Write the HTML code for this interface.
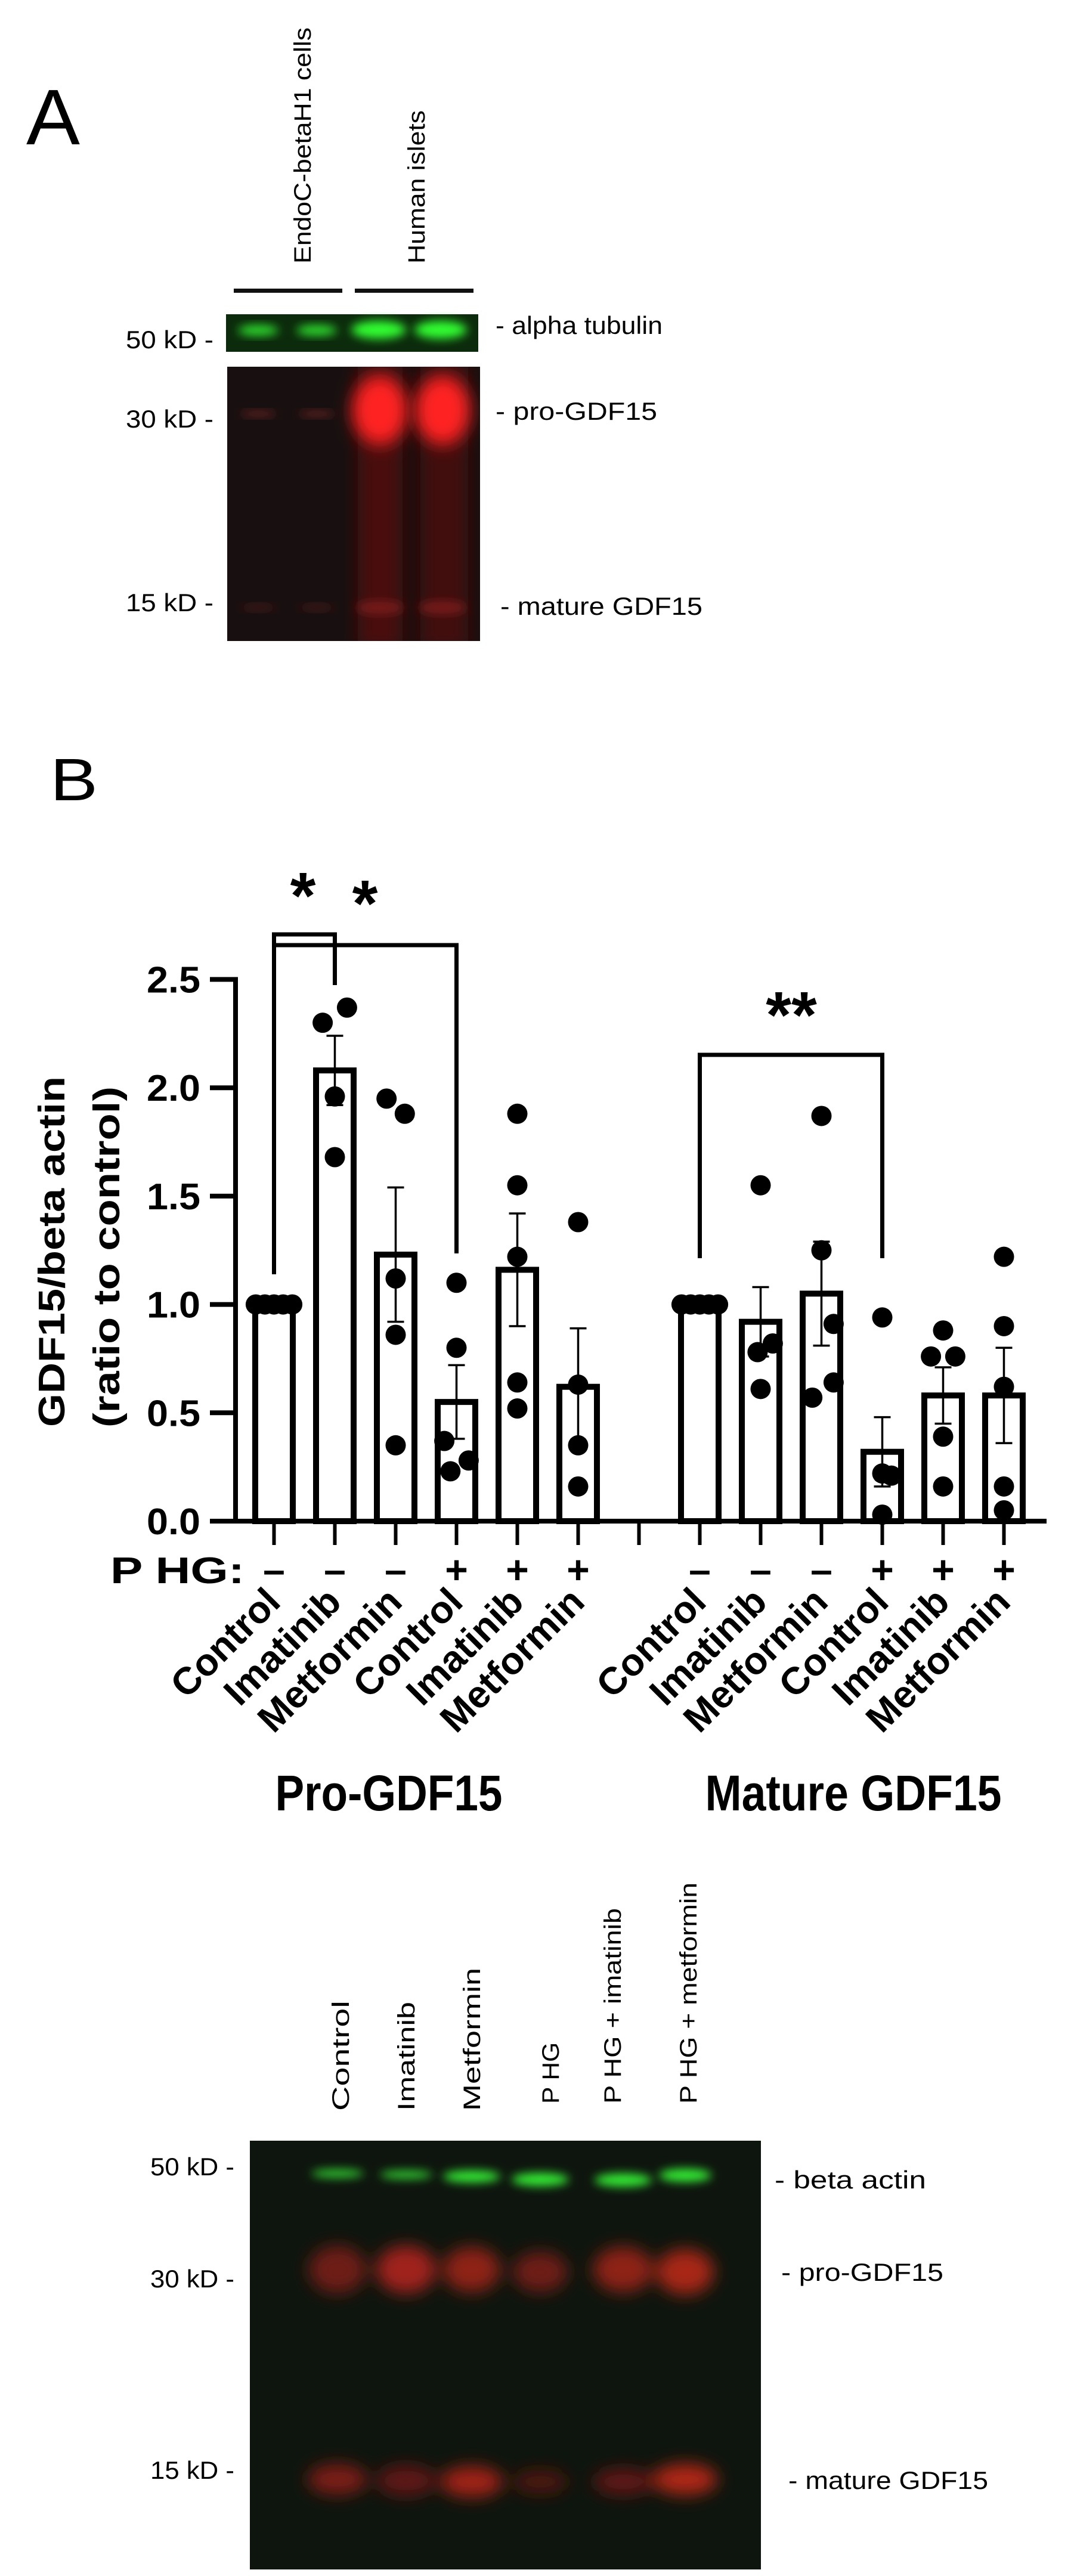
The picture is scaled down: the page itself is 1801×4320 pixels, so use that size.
<!DOCTYPE html>
<html><head><meta charset="utf-8"><style>
html,body{margin:0;padding:0;background:#fff}
svg{display:block}
text{font-family:"Liberation Sans",sans-serif}
</style></head><body>
<svg id="fig" width="1801" height="4320" viewBox="0 0 1801 4320" xmlns="http://www.w3.org/2000/svg">
<defs>
<filter id="b8" x="-50%" y="-50%" width="200%" height="200%"><feGaussianBlur stdDeviation="8"/></filter>
<filter id="b14" x="-50%" y="-50%" width="200%" height="200%"><feGaussianBlur stdDeviation="14"/></filter>
<clipPath id="clipA"><rect x="381" y="615" width="424" height="460"/></clipPath>
<clipPath id="clipB"><rect x="419" y="3590" width="857" height="719"/></clipPath>
</defs>

<!-- PANEL A -->
<g>
<text x="44" y="242" font-size="132" textLength="90" lengthAdjust="spacingAndGlyphs">A</text>
<text transform="translate(521,442) rotate(-90)" font-size="40" textLength="396" lengthAdjust="spacingAndGlyphs">EndoC-betaH1 cells</text>
<text transform="translate(712,442) rotate(-90)" font-size="40" textLength="257" lengthAdjust="spacingAndGlyphs">Human islets</text>
<rect x="392" y="484" width="182" height="7" fill="#111"/>
<rect x="595" y="484" width="199" height="7" fill="#111"/>
<g>
<rect x="379" y="527" width="423" height="63" fill="#0c2a0c"/>
<ellipse cx="433" cy="554" rx="34" ry="9" fill="#2fe02f" filter="url(#b8)"/>
<ellipse cx="531" cy="554" rx="34" ry="9" fill="#2fe02f" filter="url(#b8)"/>
<ellipse cx="635" cy="553" rx="46" ry="15" fill="#33ff33" filter="url(#b8)"/>
<ellipse cx="739" cy="553" rx="44" ry="15" fill="#33ff33" filter="url(#b8)"/>
</g>
<g clip-path="url(#clipA)">
<rect x="381" y="615" width="424" height="460" fill="#181010"/>
<rect x="600" y="610" width="75" height="480" fill="#4a1010" filter="url(#b14)"/>
<rect x="705" y="610" width="80" height="480" fill="#421010" filter="url(#b14)"/>
<ellipse cx="637" cy="688" rx="46" ry="58" fill="#ff2222" filter="url(#b14)"/>
<ellipse cx="742" cy="688" rx="46" ry="58" fill="#ff2222" filter="url(#b14)"/>
<ellipse cx="433" cy="694" rx="30" ry="5" fill="#6a2020" filter="url(#b8)"/>
<ellipse cx="531" cy="694" rx="30" ry="5" fill="#6a2020" filter="url(#b8)"/>
<ellipse cx="433" cy="1019" rx="30" ry="5" fill="#4a1818" filter="url(#b8)"/>
<ellipse cx="531" cy="1019" rx="30" ry="5" fill="#4a1818" filter="url(#b8)"/>
<ellipse cx="637" cy="1019" rx="40" ry="10" fill="#7a1c1c" filter="url(#b8)"/>
<ellipse cx="742" cy="1019" rx="40" ry="10" fill="#7a1c1c" filter="url(#b8)"/>
</g>
<text x="211" y="584" font-size="42" textLength="147" lengthAdjust="spacingAndGlyphs">50 kD -</text>
<text x="211" y="717" font-size="42" textLength="147" lengthAdjust="spacingAndGlyphs">30 kD -</text>
<text x="211" y="1025" font-size="42" textLength="147" lengthAdjust="spacingAndGlyphs">15 kD -</text>
<text x="831" y="560" font-size="42" textLength="280" lengthAdjust="spacingAndGlyphs">- alpha tubulin</text>
<text x="831" y="704" font-size="42" textLength="271" lengthAdjust="spacingAndGlyphs">-  pro-GDF15</text>
<text x="839" y="1031" font-size="42" textLength="339" lengthAdjust="spacingAndGlyphs">- mature GDF15</text>
</g>

<!-- PANEL B -->
<g id="chart">
<text x="84" y="1342" font-size="100" textLength="80" lengthAdjust="spacingAndGlyphs">B</text>
</g>

<!-- BOTTOM BLOT -->
<g>
<text transform="translate(585,3540) rotate(-90)" font-size="40" textLength="185" lengthAdjust="spacingAndGlyphs">Control</text>
<text transform="translate(695,3540) rotate(-90)" font-size="40" textLength="183" lengthAdjust="spacingAndGlyphs">Imatinib</text>
<text transform="translate(805,3540) rotate(-90)" font-size="40" textLength="240" lengthAdjust="spacingAndGlyphs">Metformin</text>
<text transform="translate(937,3528) rotate(-90)" font-size="40" textLength="103" lengthAdjust="spacingAndGlyphs">P HG</text>
<text transform="translate(1041,3528) rotate(-90)" font-size="40" textLength="328" lengthAdjust="spacingAndGlyphs">P HG + imatinib</text>
<text transform="translate(1168,3528) rotate(-90)" font-size="40" textLength="371" lengthAdjust="spacingAndGlyphs">P HG + metformin</text>
<g clip-path="url(#clipB)">
<rect x="419" y="3590" width="857" height="719" fill="#0e150e"/>
<g filter="url(#b14)">
<ellipse cx="566" cy="3806" rx="48" ry="40" fill="#6e1a14"/>
<ellipse cx="681" cy="3806" rx="50" ry="40" fill="#a0241a"/>
<ellipse cx="791" cy="3806" rx="48" ry="38" fill="#8e2018"/>
<ellipse cx="906" cy="3810" rx="46" ry="34" fill="#6e1a14"/>
<ellipse cx="1045" cy="3806" rx="50" ry="38" fill="#8e2018"/>
<ellipse cx="1149" cy="3810" rx="48" ry="38" fill="#a82618"/>
<ellipse cx="566" cy="4158" rx="50" ry="26" fill="#7a1a14"/>
<ellipse cx="681" cy="4160" rx="50" ry="26" fill="#5e1612"/>
<ellipse cx="791" cy="4162" rx="52" ry="26" fill="#a02418"/>
<ellipse cx="906" cy="4162" rx="46" ry="20" fill="#4e1410"/>
<ellipse cx="1045" cy="4162" rx="50" ry="22" fill="#601612"/>
<ellipse cx="1149" cy="4158" rx="54" ry="26" fill="#b02618"/>
</g>
<g filter="url(#b8)">
<ellipse cx="566" cy="3645" rx="44" ry="7" fill="#30d030"/>
<ellipse cx="681" cy="3647" rx="44" ry="7" fill="#30d030"/>
<ellipse cx="791" cy="3650" rx="48" ry="10" fill="#36f036"/>
<ellipse cx="906" cy="3655" rx="48" ry="11" fill="#36f036"/>
<ellipse cx="1045" cy="3656" rx="48" ry="11" fill="#36f036"/>
<ellipse cx="1149" cy="3648" rx="44" ry="11" fill="#36f036"/>
</g>
</g>
<text x="252" y="3648" font-size="42" textLength="141" lengthAdjust="spacingAndGlyphs">50 kD -</text>
<text x="252" y="3836" font-size="42" textLength="141" lengthAdjust="spacingAndGlyphs">30 kD -</text>
<text x="252" y="4157" font-size="42" textLength="141" lengthAdjust="spacingAndGlyphs">15 kD -</text>
<text x="1299" y="3670" font-size="42" textLength="254" lengthAdjust="spacingAndGlyphs">-   beta actin</text>
<text x="1310" y="3825" font-size="42" textLength="272" lengthAdjust="spacingAndGlyphs">-  pro-GDF15</text>
<text x="1322" y="4174" font-size="42" textLength="335" lengthAdjust="spacingAndGlyphs">- mature GDF15</text>
</g>
</svg>
<script>
// ---- chart data ----
const categories = ["Control","Imatinib","Metformin","Control","Imatinib","Metformin","Control","Imatinib","Metformin","Control","Imatinib","Metformin"];
const phgSigns = ["–","–","–","+","+","+","–","–","–","+","+","+"];
const groupTitles = ["Pro-GDF15","Mature GDF15"];
const proMeans = [1.0, 2.08, 1.23, 0.55, 1.16, 0.62];
const matureMeans = [1.0, 0.92, 1.05, 0.32, 0.58, 0.58];
const proSem = [0, 0.16, 0.31, 0.17, 0.26, 0.27];
const matureSem = [0, 0.16, 0.24, 0.16, 0.13, 0.22];
const proPoints = [[1,1,1,1,1],[2.30,2.37,1.96,1.68],[1.95,1.88,1.12,0.86,0.35],[1.10,0.80,0.37,0.23,0.28],[1.88,1.55,1.22,0.64,0.52],[1.38,0.63,0.35,0.16]];
const maturePoints = [[1,1,1,1,1],[1.55,0.82,0.78,0.61],[1.87,1.25,0.91,0.64,0.57],[0.94,0.22,0.21,0.03],[0.88,0.76,0.76,0.39,0.16],[1.22,0.90,0.62,0.16,0.05]];
const proJitter = [[-0.3,-0.15,0,0.15,0.3],[-0.2,0.2,0,0],[-0.15,0.15,0,0,0],[0,0,-0.2,-0.1,0.2],[0,0,0,0,0],[0,0,0,0]];
const matureJitter = [[-0.3,-0.15,0,0.15,0.3],[0,0.2,-0.05,0],[0,0,0.2,0.2,-0.15],[0,0,0.15,0],[0,-0.2,0.2,0,0],[0,0,0,0,0]];
const yTicks = [0, 0.5, 1.0, 1.5, 2.0, 2.5];
const yTickLabels = ["0.0","0.5","1.0","1.5","2.0","2.5"];

const NS = "http://www.w3.org/2000/svg";
const chart = document.getElementById("chart");
const X0 = 459.5, STEP = 102, Y0 = 2551, YS = 363.4, AXX = 395;
function xPos(i){ return X0 + i*STEP; }
function slot(k){ return k < 6 ? k : k + 1; }
function yPos(v){ return Y0 - v*YS; }
function mk(tag, attrs){ const e = document.createElementNS(NS, tag); for (const k in attrs) e.setAttribute(k, attrs[k]); chart.appendChild(e); return e; }

let e = mk("line",{x1:AXX,y1:yPos(2.5)-4,x2:AXX,y2:Y0+4,stroke:"#000","stroke-width":8});


e = mk("line",{x1:AXX-4,y1:Y0,x2:1755,y2:Y0,stroke:"#000","stroke-width":8});


yTicks.forEach((v,i)=>{
  const t = mk("line",{x1:352,y1:yPos(v),x2:AXX,y2:yPos(v),stroke:"#000","stroke-width":8});
  
  
  const l = mk("text",{x:336,y:yPos(v)+22,"font-size":62,"font-weight":"bold","text-anchor":"end",textLength:90,lengthAdjust:"spacingAndGlyphs"});
  l.textContent = yTickLabels[i];
  
  
});
e = mk("text",{transform:"translate(108,2099) rotate(-90)","font-size":62,"font-weight":"bold","text-anchor":"middle",textLength:588,lengthAdjust:"spacingAndGlyphs"});
e.textContent = "GDF15/beta actin";


e = mk("text",{transform:"translate(200,2108) rotate(-90)","font-size":62,"font-weight":"bold","text-anchor":"middle",textLength:572,lengthAdjust:"spacingAndGlyphs"});
e.textContent = "(ratio to control)";


for (let s=0; s<13; s++){
  const t = mk("line",{x1:xPos(s),y1:Y0,x2:xPos(s),y2:Y0+40,stroke:"#000","stroke-width":6});
  
  
}
e = mk("text",{x:185,y:2655,"font-size":62,"font-weight":"bold",textLength:225,lengthAdjust:"spacingAndGlyphs"});
e.textContent = "P  HG:";



const allMeans = proMeans.concat(matureMeans);
const allSem = proSem.concat(matureSem);
const allPts = proPoints.concat(maturePoints);
const allJit = proJitter.concat(matureJitter);
for (let k=0; k<12; k++){
  const cx = xPos(slot(k));
  const m = allMeans[k];
  const bar = mk("rect",{x:cx-31.5,y:yPos(m),width:63,height:Y0-yPos(m),fill:"#fff",stroke:"#000","stroke-width":10});
  
  
  if (allSem[k] > 0){
    const hi = m + allSem[k], lo = m - allSem[k];
    const eb = mk("path",{d:`M${cx},${yPos(lo)}V${yPos(hi)}M${cx-14},${yPos(hi)}H${cx+14}M${cx-14},${yPos(lo)}H${cx+14}`,stroke:"#000","stroke-width":3.5,fill:"none"});
    
    
  }
  allPts[k].forEach((v,j)=>{
    const d = mk("circle",{cx:cx + allJit[k][j]*STEP, cy:yPos(v), r:17, fill:"#000"});
    
    
  });
  const sg = mk("text",{x:cx,y:2655,"font-size":66,"font-weight":"bold","text-anchor":"middle"});
  sg.textContent = phgSigns[k];
  
  
  const lb = mk("text",{transform:`translate(${cx+14},2690) rotate(-45)`,"font-size":64,"font-weight":"bold","text-anchor":"end"});
  lb.textContent = categories[k];
  
  
}
[[652,groupTitles[0],381],[1431,groupTitles[1],497]].forEach(g=>{
  const t = mk("text",{x:g[0],y:3036,"font-size":84,"font-weight":"bold","text-anchor":"middle",textLength:g[2],lengthAdjust:"spacingAndGlyphs"});
  t.textContent = g[1];
  
  
});
function bracket(a,b,top,ya,yb,name){
  const p = mk("path",{d:`M${xPos(a)},${ya}V${top}H${xPos(b)}V${yb}`,stroke:"#000","stroke-width":7,fill:"none"});
  
  
}
bracket(0,1,1567,2137,1652,'sig-bracket-imatinib');
bracket(0,3,1585,2137,2102,'sig-bracket-phg-pro');
bracket(7,10,1769,2110,2110,'sig-bracket-phg-mature');
[[508,1540,"*"],[612,1553,"*"],[1327,1740,"**"]].forEach(s=>{
  const t = mk("text",{x:s[0],y:s[1],"font-size":110,"font-weight":"bold","text-anchor":"middle"});
  t.textContent = s[2];
  
  
});
</script>
</body></html>
